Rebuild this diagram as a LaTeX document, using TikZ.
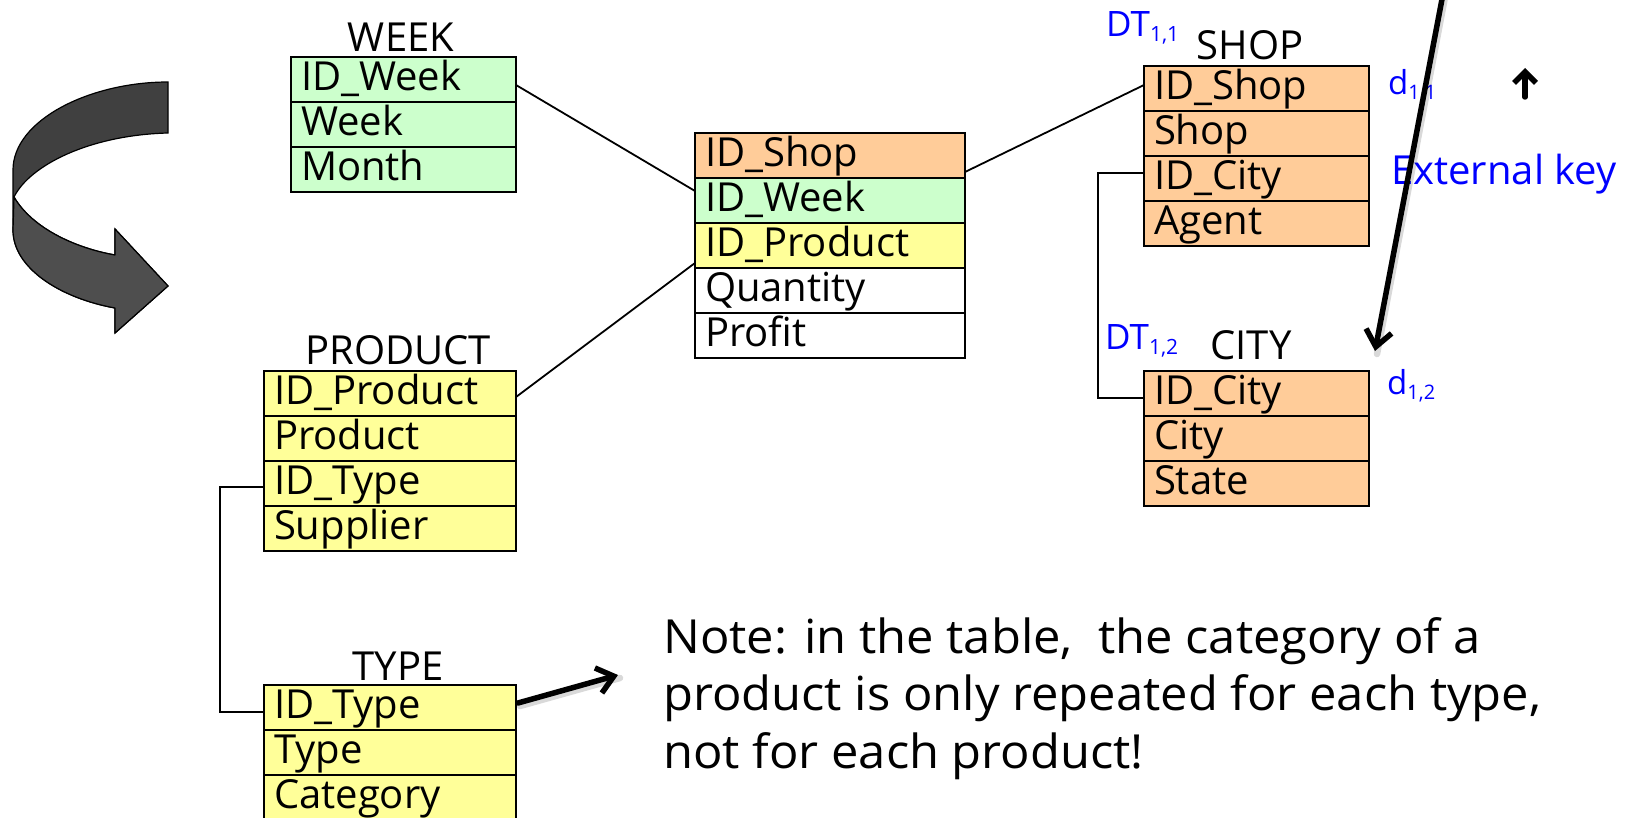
\documentclass[tikz,border=0pt]{standalone}
\usepackage{fontspec}
\setmainfont{Open Sans}
\usetikzlibrary{arrows.meta,calc}

\definecolor{shopfill}{HTML}{FFCC99}
\definecolor{weekfill}{HTML}{CCFFCC}
\definecolor{prodfill}{HTML}{FFFF99}
\definecolor{keyblue}{HTML}{0000FF}
\definecolor{ribbondark}{HTML}{404040}
\definecolor{ribbonlight}{HTML}{4E4E4E}

\newcommand\fieldfont{\fontsize{40}{44}\selectfont}
\newcommand\notefont{\fontsize{47}{52}\selectfont}
\newcommand\dtfont{\fontsize{35}{38}\selectfont}
\newcommand\dfont{\fontsize{33}{36}\selectfont}
\newcommand\lowsub[2]{\raisebox{-5pt}{\fontsize{#1}{#1}\selectfont #2}}
\newcommand\noteline[1]{\scalebox{1.04}[1]{#1}}

\tikzset{
  field/.style={draw=black, line width=2.5pt, anchor=north west,
    minimum height=45pt, inner xsep=10pt, inner ysep=0pt, outer sep=0pt,
    text height=29pt, text depth=7pt, align=left, font=\fieldfont},
  weekcol/.style={field, fill=weekfill, text width=205pt},
  shopcol/.style={field, fill=shopfill, text width=205pt},
  factcol/.style={field, text width=250pt},
  prodcol/.style={field, fill=prodfill, text width=232pt},
  title/.style={anchor=base, inner sep=0pt, font=\fieldfont},
  bluetag/.style={anchor=base west, inner sep=0pt, text=keyblue},
  link/.style={line width=1.8pt},
  bigarrow/.style={line width=5.5pt, line cap=round, line join=round,
    -{Straight Barb[length=16pt,width=26pt]}},
  arrowshade/.style={line width=6.5pt, line cap=round, black, opacity=0.15},
  notetext/.style={anchor=base west, inner sep=0pt, font=\notefont},
}

\begin{document}
\begin{tikzpicture}[x=1pt, y=-1pt]
\useasboundingbox (0,0) rectangle (1634,818);

% turning ribbon arrow on the left
\filldraw[fill=ribbondark, draw=black, line width=1.2pt]
  (168,82) .. controls (90,82) and (13,120) .. (13,170)
  -- (13,230) .. controls (13,268) and (60,298) .. (115,308)
  -- (115,333) -- (168,286) -- (115,229) -- (115,255)
  .. controls (75,248) and (32,228) .. (14,197)
  .. controls (30,165) and (90,135) .. (168,133) -- cycle;
\filldraw[fill=ribbonlight, draw=black, line width=1.2pt, line join=round]
  (14,197) .. controls (32,228) and (75,248) .. (115,255)
  -- (115,229) -- (168,286) -- (115,333) -- (115,308)
  .. controls (60,298) and (13,268) .. (13,230) -- cycle;

% WEEK dimension
\node[title] (weekt) at (401,52) {WEEK};
\node[weekcol] (w1) at (291,57) {ID\_Week};
\node[weekcol] (w2) at (w1.south west) {Week};
\node[weekcol] (w3) at (w2.south west) {Month};

% fact table
\node[factcol, fill=shopfill] (f1) at (695,133) {ID\_Shop};
\node[factcol, fill=weekfill] (f2) at (f1.south west) {ID\_Week};
\node[factcol, fill=prodfill] (f3) at (f2.south west) {ID\_Product};
\node[factcol, fill=white] (f4) at (f3.south west) {Quantity};
\node[factcol, fill=white] (f5) at (f4.south west) {Profit};

% SHOP dimension
\node[title] (shopt) at (1250,60) {SHOP};
\node[bluetag, font=\dtfont] (dt11) at (1106,37) {DT\lowsub{21}{1,1}};
\node[shopcol] (s1) at (1144,66) {ID\_Shop};
\node[shopcol] (s2) at (s1.south west) {Shop};
\node[shopcol] (s3) at (s2.south west) {ID\_City};
\node[shopcol] (s4) at (s3.south west) {Agent};
\node[bluetag, font=\dfont] (d11) at (1388,95) {d\lowsub{20}{1,1}};
\node[bluetag, font=\fieldfont] (extkey) at (1391,185) {External key};

% CITY dimension
\node[title] (cityt) at (1251,360) {CITY};
\node[bluetag, font=\dtfont] (dt12) at (1105,350) {DT\lowsub{21}{1,2}};
\node[shopcol] (c1) at (1144,371) {ID\_City};
\node[shopcol] (c2) at (c1.south west) {City};
\node[shopcol] (c3) at (c2.south west) {State};
\node[bluetag, font=\dfont] (d12) at (1387,395) {d\lowsub{20}{1,2}};

% PRODUCT dimension
\node[title] (prodt) at (398,365) {PRODUCT};
\node[prodcol] (p1) at (264,371) {ID\_Product};
\node[prodcol] (p2) at (p1.south west) {Product};
\node[prodcol] (p3) at (p2.south west) {ID\_Type};
\node[prodcol] (p4) at (p3.south west) {Supplier};

% TYPE dimension
\node[title] (typet) at (398,680) {TYPE};
\node[prodcol] (t1) at (264,685) {ID\_Type};
\node[prodcol] (t2) at (t1.south west) {Type};
\node[prodcol] (t3) at (t2.south west) {Category};

% joins between tables
\draw[link] ($(w1.east)+(0,5.5)$) -- ($(f2.west)+(0,-9.5)$);
\draw[link] ($(f1.east)+(0,16.5)$) -- ($(s1.west)+(0,-3.5)$);
\draw[link] ($(p1.east)+(0,3.5)$) -- ($(f3.west)+(0,17.5)$);
\draw[link] ($(p3.west)+(0,3.5)$) -- ++(-44,0) |- ($(t1.west)+(0,4.5)$);
\draw[link] ($(s3.west)+(0,-5.5)$) -- ++(-46,0) |- ($(c1.west)+(0,4.5)$);

% note
\node[notetext] (note1) at (663,653) {\noteline{Note: in the table,\ \ the category of a}};
\node[notetext] (note2) at (663,710) {\noteline{product is only repeated for each type,}};
\node[notetext] (note3) at (663,768) {\noteline{not for each product!}};

% thick arrows
\coordinate (typeout) at ($(t1.east)+(2,-4.5)$);
\coordinate (noteend) at (618,675);
\draw[arrowshade] ($(typeout)+(2,3)$) -- ($(noteend)+(2,3)$);
\draw[bigarrow] (typeout) -- (noteend);

\coordinate (keytop) at (1443,-6);
\coordinate (keytip) at (1375,351);
\draw[arrowshade] ($(keytop)+(2,3)$) -- ($(keytip)+(2,3)$);
\draw[bigarrow] (keytop) -- (keytip);

\coordinate (upfoot) at (1525,97);
\coordinate (uptip) at (1525,68);
\draw[bigarrow, -{Straight Barb[length=11pt,width=22pt]}] (upfoot) -- (uptip);
\end{tikzpicture}
\end{document}
